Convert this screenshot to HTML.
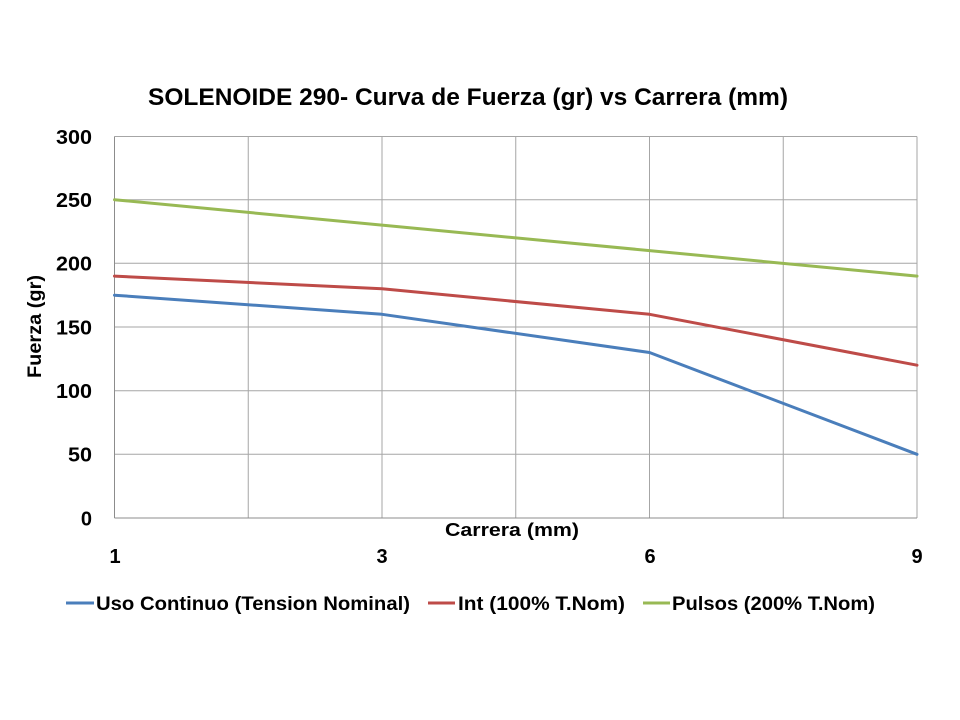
<!DOCTYPE html>
<html>
<head>
<meta charset="utf-8">
<style>
  html, body { margin: 0; padding: 0; background: #ffffff; }
  svg { display: block; }
  text { font-family: "Liberation Sans", "DejaVu Sans", sans-serif; font-weight: bold; fill: #000; }
</style>
</head>
<body>
<svg width="960" height="720" viewBox="0 0 960 720" xmlns="http://www.w3.org/2000/svg">
  <rect x="0" y="0" width="960" height="720" fill="#ffffff"/>

  <!-- Title -->
  <text x="148" y="105" font-size="24" textLength="640" lengthAdjust="spacingAndGlyphs">SOLENOIDE 290- Curva de Fuerza (gr) vs Carrera (mm)</text>

  <!-- Gridlines -->
  <g stroke="#a6a6a6" stroke-width="1">
    <line x1="114.5" y1="136.5" x2="917" y2="136.5"/>
    <line x1="114.5" y1="199.7" x2="917" y2="199.7"/>
    <line x1="114.5" y1="263.3" x2="917" y2="263.3"/>
    <line x1="114.5" y1="327" x2="917" y2="327"/>
    <line x1="114.5" y1="390.7" x2="917" y2="390.7"/>
    <line x1="114.5" y1="454.3" x2="917" y2="454.3"/>
    <line x1="248.25" y1="136.5" x2="248.25" y2="518"/>
    <line x1="382" y1="136.5" x2="382" y2="518"/>
    <line x1="515.75" y1="136.5" x2="515.75" y2="518"/>
    <line x1="649.5" y1="136.5" x2="649.5" y2="518"/>
    <line x1="783.25" y1="136.5" x2="783.25" y2="518"/>
    <line x1="917" y1="136.5" x2="917" y2="518"/>
  </g>
  <!-- Axes -->
  <g stroke="#8c8c8c" stroke-width="1">
    <line x1="114.5" y1="136.5" x2="114.5" y2="518"/>
    <line x1="114.5" y1="518" x2="917" y2="518"/>
  </g>

  <!-- Y tick labels -->
  <g font-size="20" text-anchor="end">
    <text x="92" y="144" textLength="36" lengthAdjust="spacingAndGlyphs">300</text>
    <text x="92" y="207" textLength="36" lengthAdjust="spacingAndGlyphs">250</text>
    <text x="92" y="270.5" textLength="36" lengthAdjust="spacingAndGlyphs">200</text>
    <text x="92" y="334.5" textLength="36" lengthAdjust="spacingAndGlyphs">150</text>
    <text x="92" y="398" textLength="36" lengthAdjust="spacingAndGlyphs">100</text>
    <text x="92" y="461.5" textLength="24" lengthAdjust="spacingAndGlyphs">50</text>
    <text x="92" y="525.5">0</text>
  </g>

  <!-- X tick labels -->
  <g font-size="20" text-anchor="middle">
    <text x="115" y="563">1</text>
    <text x="382" y="563">3</text>
    <text x="650" y="563">6</text>
    <text x="917" y="563">9</text>
  </g>

  <!-- Axis titles -->
  <text x="445" y="536" font-size="18" textLength="134" lengthAdjust="spacingAndGlyphs">Carrera (mm)</text>
  <text transform="translate(41,378) rotate(-90)" x="0" y="0" font-size="19" textLength="103" lengthAdjust="spacingAndGlyphs">Fuerza (gr)</text>

  <!-- Series -->
  <g fill="none" stroke-width="3" stroke-linejoin="round" stroke-linecap="round">
    <polyline stroke="#98b954" points="114.5,199.7 382,225.1 649.5,250.6 917,276.1"/>
    <polyline stroke="#be4b48" points="114.5,276.1 382,288.8 649.5,314.3 917,365.2"/>
    <polyline stroke="#4a7ebb" points="114.5,295.2 382,314.3 649.5,352.5 917,454.3"/>
  </g>

  <!-- Legend -->
  <g stroke-width="3">
    <line x1="66" y1="603" x2="94" y2="603" stroke="#4a7ebb"/>
    <line x1="428" y1="603" x2="455" y2="603" stroke="#be4b48"/>
    <line x1="643" y1="603" x2="670" y2="603" stroke="#98b954"/>
  </g>
  <g font-size="19">
    <text x="96" y="610" textLength="314" lengthAdjust="spacingAndGlyphs">Uso Continuo (Tension Nominal)</text>
    <text x="458" y="610" textLength="167" lengthAdjust="spacingAndGlyphs">Int (100% T.Nom)</text>
    <text x="672" y="610" textLength="203" lengthAdjust="spacingAndGlyphs">Pulsos (200% T.Nom)</text>
  </g>
</svg>
</body>
</html>
